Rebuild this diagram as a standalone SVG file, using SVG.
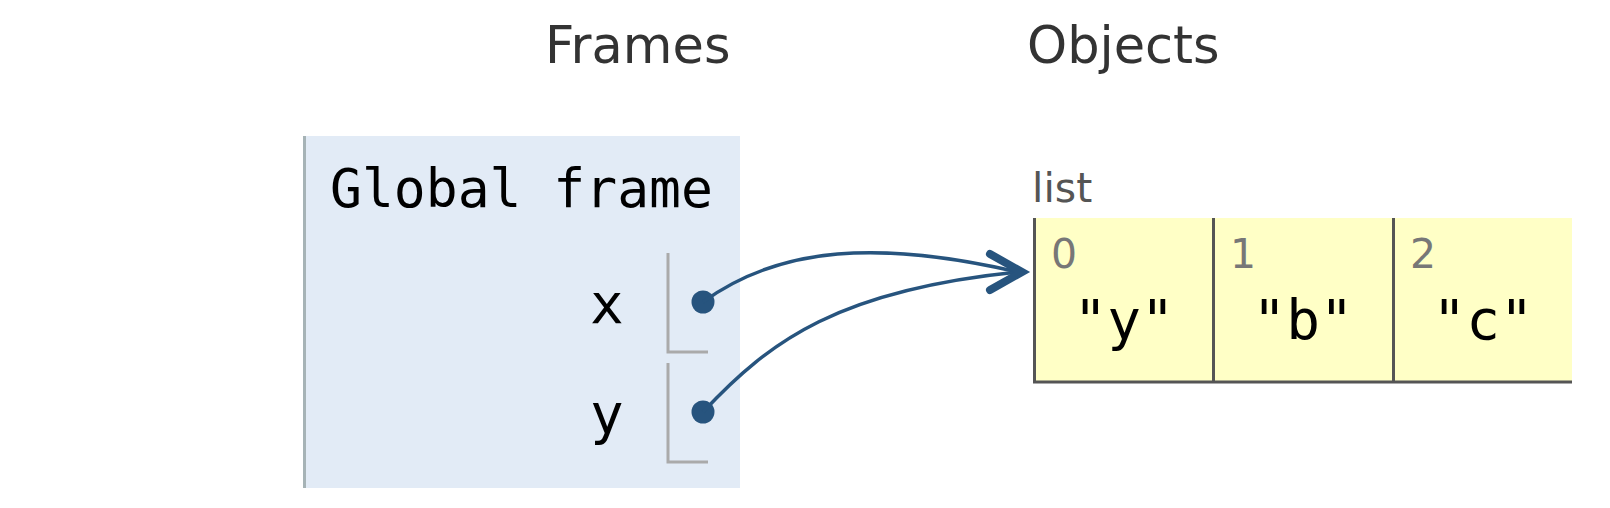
<svg xmlns="http://www.w3.org/2000/svg" width="1610" height="508" viewBox="0 0 1610 508">
<style>
.hdr{font-family:"DejaVu Sans",Verdana,sans-serif;font-size:51px;fill:#333}
.mono{font-family:"DejaVu Sans Mono",Menlo,monospace;fill:#000}
.idx{font-family:"DejaVu Sans",Verdana,sans-serif;font-size:41px;fill:#777}
.lbl{font-family:"DejaVu Sans",Verdana,sans-serif;font-size:41px;fill:#555}
.br{stroke:#aaa;stroke-width:3;fill:none}
.lb{stroke:#555;stroke-width:3;fill:none}
.conn{stroke:#27547e;stroke-width:3.5;fill:none}
.dot{fill:#27547e}
</style>
<rect width="1610" height="508" fill="#fff"/>
<text class="hdr" x="545" y="63">Frames</text>
<text class="hdr" x="1027" y="63">Objects</text>
<g id="global-frame">
<rect x="303" y="136" width="437" height="352" fill="#e2ebf6"/>
<line x1="304.5" y1="136" x2="304.5" y2="488" stroke="#a6b3b6" stroke-width="3"/>
<text class="mono" x="330" y="207" font-size="53">Global frame</text>
</g>
<g id="var-x">
<text class="mono" x="590" y="323" font-size="56">x</text>
<path class="br" d="M668 253V352H708"/>
<circle class="dot" cx="703" cy="302" r="11.5"/>
</g>
<g id="var-y">
<text class="mono" x="590" y="433" font-size="56">y</text>
<path class="br" d="M668 363V462H708"/>
<circle class="dot" cx="703" cy="412" r="11.5"/>
</g>
<g id="list">
<text class="lbl" x="1032" y="202">list</text>
<rect x="1034" y="218" width="538" height="164" fill="#ffffc6"/>
<path class="lb" d="M1034.5 218V382H1572M1213.5 218V382M1393.5 218V382"/>
<text class="idx" x="1051" y="268">0</text>
<text class="idx" x="1230" y="268">1</text>
<text class="idx" x="1410" y="268">2</text>
<text class="mono" x="1124" y="339" font-size="56" text-anchor="middle">"y"</text>
<text class="mono" x="1303" y="339" font-size="56" text-anchor="middle">"b"</text>
<text class="mono" x="1483" y="339" font-size="56" text-anchor="middle">"c"</text>
</g>
<g id="connectors">
<path class="conn" d="M703 302C780 246 880 240 1018 272"/>
<path class="conn" d="M703 412C770 340 840 290 1018 272"/>
<polyline points="990,254 1022,272 990,290" fill="none" stroke="#27547e" stroke-width="8" stroke-linejoin="miter" stroke-linecap="round"/>
</g>
</svg>
